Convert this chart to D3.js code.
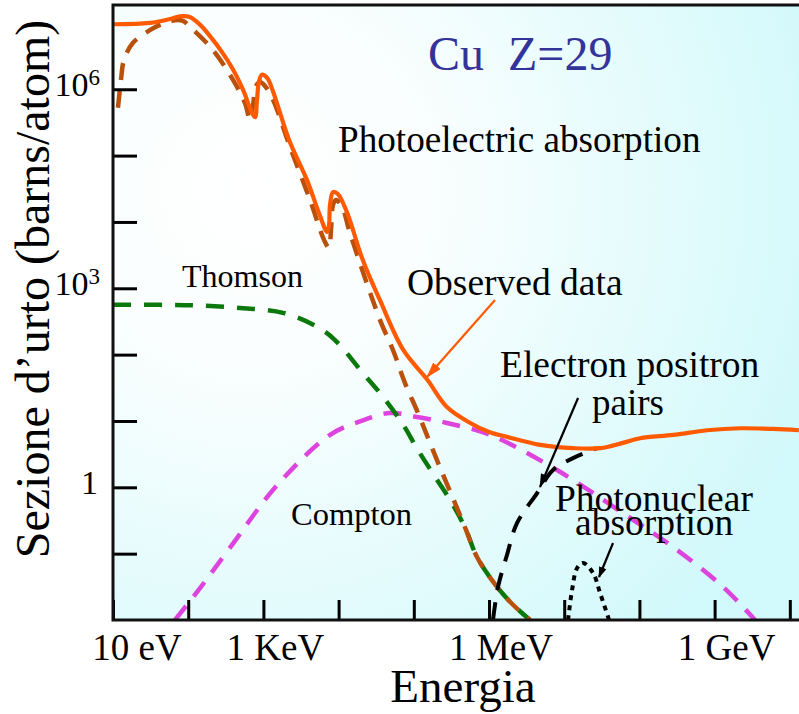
<!DOCTYPE html>
<html><head><meta charset="utf-8">
<script src="https://cdn.jsdelivr.net/npm/d3@7"></script>
<style>
body{margin:0;background:#fff}
svg{display:block}
text{font-family:"Liberation Serif","Times New Roman",serif;fill:#000}
</style>
</head><body>
<svg id="chart" width="799" height="714"></svg>
<script>
// ---- Data (log10 of energy in eV, log10 of cross section in barns/atom) ----
const observedLogE = [1.00,1.49,1.76,1.89,2.02,2.16,2.29,2.45,2.60,2.73,2.85,2.89,2.915,2.94,2.98,3.05,3.13,3.34,3.58,3.75,3.846,3.872,3.886,3.926,3.99,4.11,4.32,4.55,4.86,5.18,5.44,5.75,6.01,6.24,6.68,7.12,7.48,7.78,8.01,8.45,8.90,9.34,9.78,10.12];
const observedLogS = [6.98,7.00,7.06,7.10,7.09,6.97,6.80,6.56,6.29,5.99,5.64,5.58,5.84,6.11,6.22,6.17,5.96,5.24,4.63,4.10,3.85,3.95,4.26,4.45,4.42,4.15,3.43,2.82,2.07,1.62,1.21,0.97,0.83,0.76,0.64,0.59,0.59,0.67,0.74,0.79,0.86,0.89,0.88,0.86];

const photoLogE = [1.066,1.106,1.146,1.266,1.49,1.625,1.824,1.93,2.024,2.33,2.596,2.755,2.822,2.862,2.902,2.955,3.021,3.128,3.354,3.62,3.806,3.872,3.899,3.926,3.965,4.045,4.152,4.551,4.723,4.883,5.056,5.215,5.388,5.548,5.694,5.84,6.106,6.319,6.545];
const photoLogS = [5.72,6.14,6.44,6.70,6.89,6.97,7.04,7.03,6.94,6.59,6.14,5.79,5.54,5.76,6.05,6.11,6.05,5.84,5.13,4.33,3.73,3.61,3.88,4.26,4.33,4.23,3.83,2.52,2.07,1.57,1.12,0.67,0.19,-0.24,-0.64,-1.05,-1.50,-1.77,-2.00];

const thomsonLogE = [1.00,1.625,2.157,2.729,3.261,3.713,3.952,4.324,4.551,4.843,5.056,5.282,5.508,5.694,5.84,6.106,6.319,6.545];
const thomsonLogS = [2.75,2.75,2.74,2.70,2.63,2.42,2.22,1.72,1.42,0.97,0.56,0.16,-0.24,-0.64,-1.05,-1.50,-1.77,-2.00];

const comptonLogE = [1.824,2.157,2.556,3.181,3.886,4.324,4.684,5.043,5.441,6.013,6.904,7.782,8.447,9.112,9.537];
const comptonLogS = [-2.00,-1.52,-0.91,0.03,0.79,1.01,1.12,1.06,0.97,0.79,0.26,-0.39,-0.90,-1.50,-2.00];

const pairsLogE = [6.053,6.12,6.239,6.372,6.638,6.851,7.117,7.436];
const pairsLogS = [-2.00,-1.50,-1.02,-0.54,-0.09,0.26,0.44,0.59];

const nuclearLogE = [7.051,7.104,7.170,7.250,7.383,7.476,7.582,7.596];
const nuclearLogS = [-2.00,-1.55,-1.22,-1.14,-1.29,-1.59,-1.95,-2.00];

const xTickExps = [1,2,3,4,5,6,7,8,9,10];
const xTickLabels = [{exp:1,text:"10 eV"},{exp:3,text:"1 KeV"},{exp:6,text:"1 MeV"},{exp:9,text:"1 GeV"}];
const yTickExps = [-1,0,1,2,3,4,5,6];
const yTickLabels = [{exp:6,base:"10",sup:"6"},{exp:3,base:"10",sup:"3"},{exp:0,base:"1",sup:""}];

// annotation arrows (log10 E, log10 sigma)
const arrowObserved = {from:[6.08,2.824], to:[5.176,1.663]};
const arrowPairs = {from:[7.184,1.346], to:[6.678,0.005]};
const arrowNuclear = {from:[7.649,-0.839], to:[7.463,-1.352]};

// ---- Layout ----
const svg = d3.select("#chart");
const L = 113, R = 799, T = 5, B = 620;
const x = d3.scaleLog().domain([10, Math.pow(10,10.122)]).range([L, R]);
const y = d3.scaleLog().domain([1e-2, Math.pow(10,7.27)]).range([B, T]);

const defs = svg.append("defs");
const grad = defs.append("radialGradient").attr("id","bg")
  .attr("gradientUnits","userSpaceOnUse").attr("cx",250).attr("cy",190).attr("r",600);
grad.append("stop").attr("offset","0").attr("stop-color","#ffffff");
grad.append("stop").attr("offset","0.3").attr("stop-color","#fafefe");
grad.append("stop").attr("offset","1").attr("stop-color","#d2f9fb");

defs.append("clipPath").attr("id","clip").append("rect")
  .attr("x",L).attr("y",T).attr("width",R-L).attr("height",B-T);

function marker(id, color, w, h){
  defs.append("marker").attr("id",id).attr("markerUnits","userSpaceOnUse")
    .attr("markerWidth",w).attr("markerHeight",h).attr("refX",w-1).attr("refY",h/2)
    .attr("orient","auto")
    .append("path").attr("d",`M0,0 L${w},${h/2} L0,${h} Z`).attr("fill",color);
}
marker("arO","#ff5a00",16,10);
marker("arK","#000",14,9);
marker("arK2","#000",11,8);

svg.append("rect").attr("x",L).attr("y",T).attr("width",R-L).attr("height",B-T).attr("fill","url(#bg)");

const toPts = (le, ls) => le.map((e,i)=>({E:Math.pow(10,e), S:Math.pow(10,ls[i])}));
const line = d3.line().x(d=>x(d.E)).y(d=>y(d.S)).curve(d3.curveCatmullRom.alpha(0.5));

const plot = svg.append("g").attr("clip-path","url(#clip)");

function curve(le, ls, color, width, dash){
  plot.append("path").datum(toPts(le,ls)).attr("d",line)
    .attr("fill","none").attr("stroke",color).attr("stroke-width",width)
    .attr("stroke-dasharray",dash||null).attr("stroke-linecap","butt");
}
curve(comptonLogE, comptonLogS, "#dd44dd", 4.5, "18,12");
curve(thomsonLogE, thomsonLogS, "#0a780a", 4.5, "18,13");
curve(photoLogE, photoLogS, "#b9500c", 4.5, "17,11");
curve(pairsLogE, pairsLogS, "#000", 4, "18,12");
curve(nuclearLogE, nuclearLogS, "#000", 4, "5,5");
curve(observedLogE, observedLogS, "#ff5a00", 4.2, null);

// ---- Axes (inward ticks) ----
const xAxis = d3.axisBottom(x).tickValues(xTickExps.map(e=>Math.pow(10,e))).tickSize(-20).tickFormat("");
const gx = svg.append("g").attr("transform",`translate(0,${B})`).call(xAxis);
gx.select(".domain").remove();
gx.selectAll(".tick line").attr("stroke","#000").attr("stroke-width",3);

const yAxis = d3.axisLeft(y).tickValues(yTickExps.map(e=>Math.pow(10,e))).tickSize(-24).tickFormat("");
const gy = svg.append("g").attr("transform",`translate(${L},0)`).call(yAxis);
gy.select(".domain").remove();
gy.selectAll(".tick line").attr("stroke","#000").attr("stroke-width",3);

// frame
svg.append("path").attr("d",`M${R},${T} L${L},${T} L${L},${B} L${R},${B}`)
  .attr("fill","none").attr("stroke","#111").attr("stroke-width",3).attr("stroke-linejoin","miter");

// tick labels
svg.selectAll(".xl").data(xTickLabels).enter().append("text")
  .attr("x",d=>Math.max(x(Math.pow(10,d.exp))+12,137)).attr("y",660)
  .attr("text-anchor","middle").attr("font-size",37).text(d=>d.text);

const yl = svg.selectAll(".yl").data(yTickLabels).enter().append("text")
  .attr("x",d=>d.sup?100:98).attr("y",d=>y(Math.pow(10,d.exp))+7)
  .attr("text-anchor","end").attr("font-size",34);
yl.append("tspan").text(d=>d.base);
yl.filter(d=>d.sup).append("tspan").attr("font-size",23).attr("dy",-11).text(d=>d.sup);

// axis titles
svg.append("text").attr("x",463).attr("y",702).attr("text-anchor","middle")
  .attr("font-size",47).text("Energia");
svg.append("text").attr("transform","translate(49,289) rotate(-90)")
  .attr("text-anchor","middle").attr("font-size",48).text("Sezione d’urto (barns/atom)");

// annotations
function label(t, px, py, size, color){
  svg.append("text").attr("x",px).attr("y",py).attr("font-size",size)
    .style("white-space","pre").style("fill",color||"#000").text(t);
}
label("Cu  Z=29", 428, 70, 48, "#333399");
label("Photoelectric absorption", 338, 152, 37.2);
label("Thomson", 182, 287, 32);
label("Observed data", 407, 295, 37.5);
label("Electron positron", 500, 377, 37.5);
label("pairs", 592, 415, 37);
label("Compton", 291, 525, 32.5);
label("Photonuclear", 555, 511, 37.5);
label("absorption", 575, 535, 37.5);

function arrow(a, color, w, mk){
  svg.append("line")
    .attr("x1",x(Math.pow(10,a.from[0]))).attr("y1",y(Math.pow(10,a.from[1])))
    .attr("x2",x(Math.pow(10,a.to[0]))).attr("y2",y(Math.pow(10,a.to[1])))
    .attr("stroke",color).attr("stroke-width",w).attr("marker-end",`url(#${mk})`);
}
arrow(arrowObserved, "#ff5a00", 2.2, "arO");
arrow(arrowPairs, "#000", 2.2, "arK");
arrow(arrowNuclear, "#000", 2.2, "arK2");
</script>
</body></html>
